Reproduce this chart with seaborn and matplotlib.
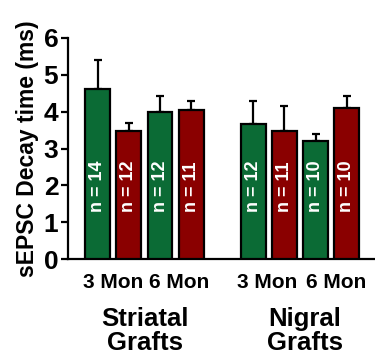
import numpy as np
import pandas as pd
import matplotlib
matplotlib.use("Agg")
import matplotlib.pyplot as plt
import seaborn as sns

# values
groups = ["Striatal\nGrafts", "Nigral\nGrafts"]
ages = ["3 Mon", "6 Mon"]
decay_mean = [4.62, 3.48, 4.00, 4.03, 3.66, 3.48, 3.21, 4.11]
decay_sem = [0.78, 0.21, 0.41, 0.26, 0.64, 0.66, 0.17, 0.32]
n_cells = [14, 12, 12, 11, 12, 11, 10, 10]
bar_kind = ["green", "red", "green", "red", "green", "red", "green", "red"]

colors = {"green": "#0b6b35", "red": "#8a0000"}

sns.set_theme(style="white")
plt.rcParams["font.family"] = ["Liberation Sans", "DejaVu Sans"]
plt.rcParams["font.weight"] = "bold"
plt.rcParams["text.color"] = "black"
plt.rcParams["xtick.color"] = "black"
plt.rcParams["ytick.color"] = "black"
plt.rcParams["axes.labelcolor"] = "black"

# bar positions: two groups of four, one empty slot between them
pos = [0, 1, 2, 3, 5, 6, 7, 8]
df = pd.DataFrame({"pos": pos, "decay": decay_mean, "kind": bar_kind,
                   "sem": decay_sem, "n": n_cells})

fig = plt.figure(figsize=(3.75, 3.56), dpi=100)
ax = fig.add_axes([0.1813, 0.2716, 0.8187, 0.6224])

sns.barplot(data=df, x="pos", y="decay", hue="kind", palette=colors,
            native_scale=True, errorbar=None, width=0.8, dodge=False,
            saturation=1, edgecolor="black", linewidth=1.6, legend=False,
            ax=ax, zorder=3)

ax.errorbar(df["pos"], df["decay"], yerr=[np.zeros(len(df)), df["sem"]],
            fmt="none", ecolor="black", elinewidth=1.6, capsize=3.2,
            capthick=1.6, zorder=2)

for x, n in zip(df["pos"], df["n"]):
    ax.text(x, 1.97, f"n = {n}", rotation=90, ha="center", va="center",
            color="white", fontsize=13, fontweight="bold", zorder=4)

ax.set_xlim(-0.958, 8.91)
ax.set_ylim(0, 6)
ax.set_yticks(range(7))
ax.set_yticklabels([str(v) for v in range(7)], fontsize=19, fontweight="bold")
ax.tick_params(axis="y", width=1.6, length=5, pad=2, direction="out", left=True)
ax.tick_params(axis="x", length=0, pad=10)

tick_pos = [0.5, 2.6, 5.45, 7.65]
ax.set_xticks(tick_pos)
ax.set_xticklabels(ages * 2, fontsize=15, fontweight="bold")

ax.set_xlabel("")
ax.set_ylabel("sEPSC Decay time (ms)", fontsize=16.5, fontweight="bold", labelpad=3)

for sp in ["top", "right"]:
    ax.spines[sp].set_visible(False)
for sp in ["left", "bottom"]:
    ax.spines[sp].set_linewidth(1.6)
    ax.spines[sp].set_color("black")

trans = ax.get_xaxis_transform()
for gx, g in zip([1.52, 6.65], groups):
    ax.text(gx, -0.325, g, transform=trans, ha="center", va="center",
            fontsize=18.5, fontweight="bold", linespacing=1.0)

fig.savefig("out.png", dpi=100)
